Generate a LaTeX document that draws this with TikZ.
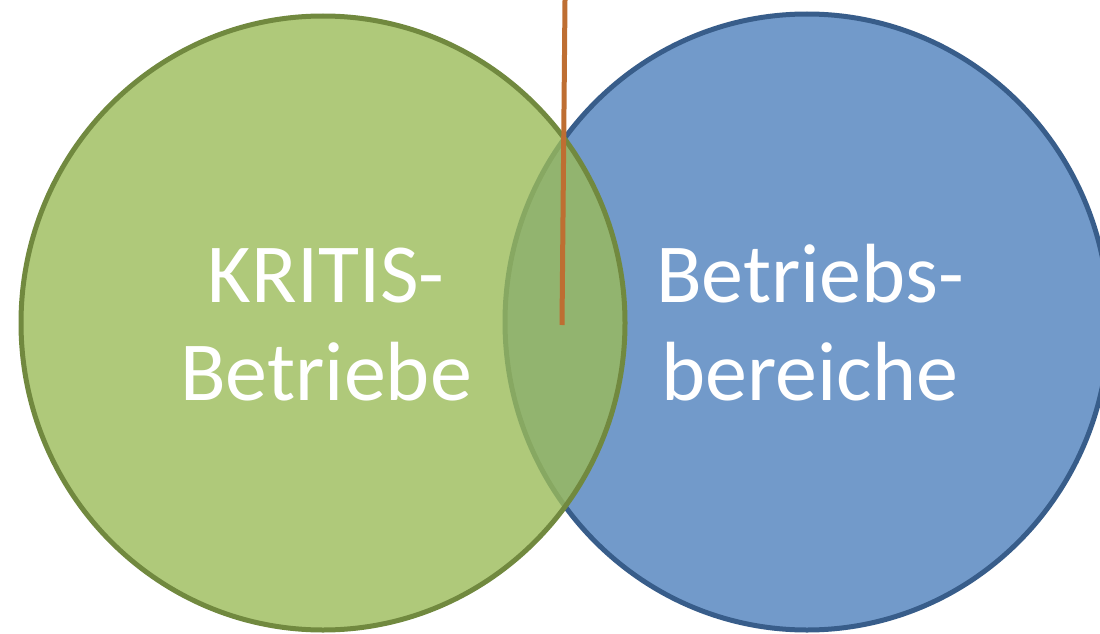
\documentclass[tikz,border=0pt]{standalone}
\usepackage{fontspec}
\setmainfont{Carlito}
\definecolor{gfill}{RGB}{155,187,89}
\definecolor{gline}{RGB}{113,137,63}
\definecolor{bfill}{RGB}{79,129,189}
\definecolor{bline}{RGB}{56,93,138}
\definecolor{oline}{RGB}{190,110,50}
\begin{document}
\begin{tikzpicture}[x=1pt,y=-1pt,
  setcircle/.style={line width=5pt,fill opacity=0.8},
  lbl/.style={text=white,align=center,inner sep=0pt,anchor=base,
    font=\fontsize{84}{98}\selectfont}]
\useasboundingbox (0,0) rectangle (1100,634);
\begin{scope}
\clip (0,0) rectangle (1100,634);
\draw[setcircle,draw=bline,fill=bfill] (807,322) ellipse [x radius=302,y radius=308];
\draw[setcircle,draw=gline,fill=gfill] (323,323) ellipse [x radius=302,y radius=307];
\end{scope}
\coordinate (otop) at (565,0);
\coordinate (obot) at (562,325);
\draw[oline,line width=5pt] (otop) -- (obot);
\node[lbl] (kritis) at (326,400) {KRITIS-\\Betriebe};
\node[lbl] (betr) at (810,400) {Betriebs-\\bereiche};
\end{tikzpicture}
\end{document}
